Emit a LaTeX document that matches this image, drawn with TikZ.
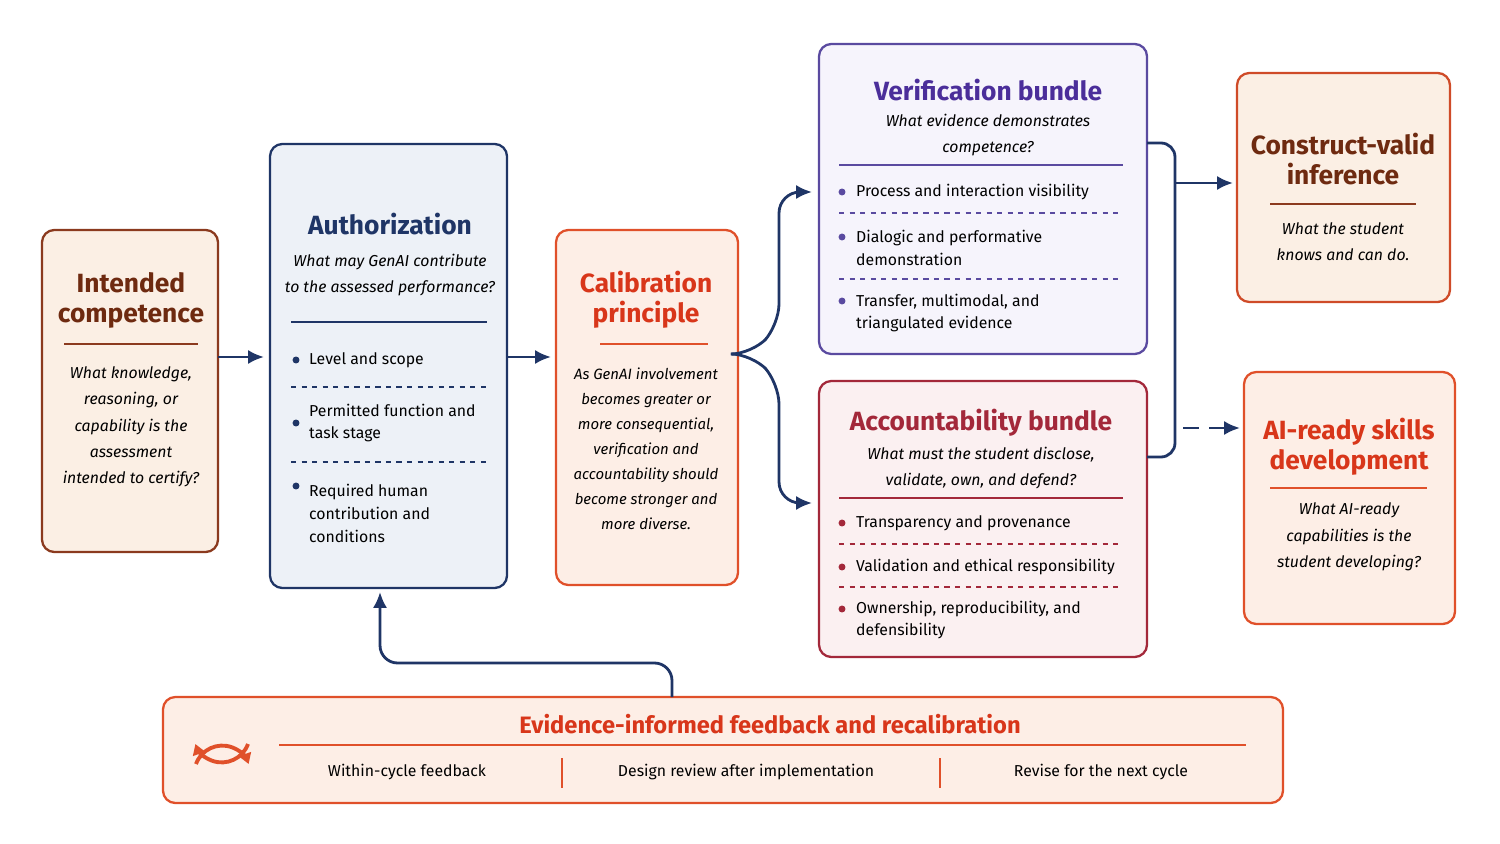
\documentclass[tikz,border=0pt]{standalone}
\usepackage{fontspec}
\setmainfont{Fira Sans}
\usetikzlibrary{positioning,arrows.meta,calc}
\definecolor{navy}{HTML}{1F3566}
\definecolor{brownline}{HTML}{8B3A1E}
\definecolor{browntext}{HTML}{6E2A10}
\definecolor{redline}{HTML}{E0502A}
\definecolor{redtext}{HTML}{D8361A}
\definecolor{purpline}{HTML}{5A4AA0}
\definecolor{purptext}{HTML}{4B2E9A}
\definecolor{darkred}{HTML}{A3283A}
\definecolor{beige}{HTML}{FBEFE4}
\definecolor{bluegrey}{HTML}{EDF1F7}
\definecolor{peach}{HTML}{FDEEE6}
\definecolor{lavender}{HTML}{F6F4FC}
\definecolor{pinkish}{HTML}{FBF0F1}
\tikzset{
  box/.style={draw, rounded corners=7pt, line width=1.3pt},
  ttl/.style={font=\bfseries\fontsize{15}{17}\selectfont, align=center},
  ask/.style={font=\itshape\fontsize{9}{15}\selectfont, align=center},
  itm/.style={font=\fontsize{9}{13}\selectfont, align=left, anchor=west},
  lbl/.style={font=\fontsize{9}{11}\selectfont},
  dot/.style={circle, fill, inner sep=1.4pt},
  rule/.style={line width=0.6pt},
  sep/.style={dashed, line width=0.6pt},
  flow/.style={navy, line width=1.6pt, -{Latex[length=9pt,width=8pt]}},
}
\begin{document}
\begin{tikzpicture}[x=0.02cm, y=-0.02cm]
\useasboundingbox (0,0) rectangle (1500,844);

% Boxes
\draw[box, brownline, fill=beige] (42,230) rectangle (218,552);
\draw[box, navy, fill=bluegrey] (270,144) rectangle (507,588);
\draw[box, redline, fill=peach] (556,230) rectangle (738,585);
\draw[box, purpline, fill=lavender] (819,44) rectangle (1147,354);
\draw[box, darkred, fill=pinkish] (819,381) rectangle (1147,657);
\draw[box, redline!80!brownline, fill=beige] (1237,73) rectangle (1450,302);
\draw[box, redline, fill=peach] (1244,372) rectangle (1455,624);
\draw[box, redline, fill=peach] (163,697) rectangle (1283,803);

% Intended competence
\node[ttl, text=browntext] (intT) at (131,300) {Intended\\competence};
\draw[rule, brownline] (64,344) -- (198,344);
\node[ask] (intQ) at (131,427) {What knowledge,\\reasoning, or\\capability is the\\assessment\\intended to certify?};

% Authorization
\node[ttl, text=navy] (authT) at (390,224) {Authorization};
\node[ask] (authQ) at (390,275) {What may GenAI contribute\\to the assessed performance?};
\draw[rule, navy] (291,322) -- (487,322);
\foreach \y in {360,423,486} \node[dot, navy] at (296,\y) {};
\node[itm] (auth1) at (303,360) {Level and scope};
\node[itm] (auth2) at (303,423) {Permitted function and\\task stage};
\node[itm, anchor=north west] (auth3) at (303,478) {Required human\\contribution and\\conditions};
\draw[sep, navy] (291,387) -- (487,387);
\draw[sep, navy] (291,462) -- (487,462);

% Calibration principle
\node[ttl, text=redtext] (calT) at (646,300) {Calibration\\principle};
\draw[rule, redline] (600,344) -- (708,344);
\node[ask, font=\itshape\fontsize{8.5}{14.2}\selectfont] (calQ) at (646,449) {As GenAI involvement\\becomes greater or\\more consequential,\\verification and\\accountability should\\become stronger and\\more diverse.};

% Verification bundle
\node[ttl, text=purptext] (verT) at (988,90) {Verification bundle};
\node[ask] (verQ) at (988,135) {What evidence demonstrates\\competence?};
\draw[rule, purpline] (839,165) -- (1123,165);
\foreach \y in {192,237,301} \node[dot, purpline] at (842,\y) {};
\node[itm] (ver1) at (850,192) {Process and interaction visibility};
\node[itm] (ver2) at (850,248) {Dialogic and performative\\demonstration};
\node[itm] (ver3) at (850,313) {Transfer, multimodal, and\\triangulated evidence};
\draw[sep, purpline] (839,213) -- (1123,213);
\draw[sep, purpline] (839,279) -- (1123,279);

% Accountability bundle
\node[ttl, text=darkred] (accT) at (981,423) {Accountability bundle};
\node[ask] (accQ) at (981,468) {What must the student disclose,\\validate, own, and defend?};
\draw[rule, darkred] (839,498) -- (1123,498);
\foreach \y in {523,567,609} \node[dot, darkred] at (842,\y) {};
\node[itm] (acc1) at (850,523) {Transparency and provenance};
\node[itm] (acc2) at (850,567) {Validation and ethical responsibility};
\node[itm] (acc3) at (850,620) {Ownership, reproducibility, and\\defensibility};
\draw[sep, darkred] (839,544) -- (1123,544);
\draw[sep, darkred] (839,587) -- (1123,587);

% Construct-valid inference
\node[ttl, text=browntext] (conT) at (1343,159) {Construct-valid\\inference};
\draw[rule, brownline] (1270,204) -- (1416,204);
\node[ask] (conQ) at (1343,242) {What the student\\knows and can do.};

% AI-ready skills development
\node[ttl, text=redtext] (aiT) at (1349,447) {AI-ready skills\\development};
\draw[rule, redline] (1270,488) -- (1427,488);
\node[ask] (aiQ) at (1349,537) {What AI-ready\\capabilities is the\\student developing?};

% Feedback
\node[ttl, text=redtext, font=\bfseries\fontsize{13.5}{15}\selectfont] (fbT) at (770,724) {Evidence-informed feedback and recalibration};
\draw[rule, redline] (279,745) -- (1246,745);
\node[lbl] (fb1) at (407,772) {Within-cycle feedback};
\node[lbl] (fb2) at (746,772) {Design review after implementation};
\node[lbl] (fb3) at (1101,772) {Revise for the next cycle};
\draw[redline, line width=1pt] (562,758) -- (562,788);
\draw[redline, line width=1pt] (940,758) -- (940,788);
\draw[redline, line width=2.2pt, -{Triangle[length=6pt,width=7pt]}] (248,744) arc[start angle=20, end angle=160, radius=28];
\draw[redline, line width=2.2pt, -{Triangle[length=6pt,width=7pt]}] (196,764) arc[start angle=200, end angle=340, radius=28];

% Connectors
\coordinate (calE) at (738,354);
\coordinate (vIn) at (812,192);
\coordinate (aIn) at (812,503);
\draw[flow] (218,357) -- (264,357);
\draw[flow] (507,357) -- (551,357);
\draw[flow, rounded corners=12pt] (calE) -- (752,354) -- (779,325) -- (779,192) -- (vIn);
\draw[flow, rounded corners=12pt] (calE) -- (752,354) -- (779,383) -- (779,503) -- (aIn);
\draw[navy, line width=1.6pt, rounded corners=8pt] (1147,143) -- (1175,143) -- (1175,457) -- (1147,457);
\draw[flow] (1175,183) -- (1233,183);
\draw[flow, dashed, dash pattern=on 9pt off 6pt] (1183,428) -- (1240,428);
\draw[flow, rounded corners=10pt] (672,697) -- (672,663) -- (380,663) -- (380,592);
\end{tikzpicture}
\end{document}
